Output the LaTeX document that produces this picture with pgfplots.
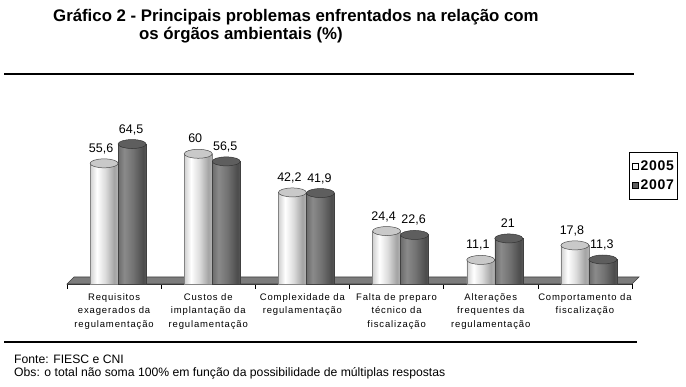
\documentclass[border=0pt]{standalone}
\usepackage{fontspec}
\setmainfont{Liberation Sans}
\newfontfamily\tickfont[LetterSpace=9]{Liberation Sans}
\newfontfamily\legfont[LetterSpace=5]{Liberation Sans Bold}
\usepackage{pgfplots}
\usepackage{pgfplotstable}
\pgfplotsset{compat=1.18}
\pgfplotsset{/pgf/number format/use comma, /pgf/number format/assume math mode=true}
\definecolor{cA0}{HTML}{D0D0D0}
\definecolor{cA2}{HTML}{DCDCDC}
\definecolor{cA3}{HTML}{A4A4A4}
\definecolor{cA4}{HTML}{B4B4B4}
\definecolor{cB0}{HTML}{6C6C6C}
\definecolor{cB1}{HTML}{8A8A8A}
\definecolor{cB2}{HTML}{727272}
\definecolor{cB3}{HTML}{4C4C4C}
\definecolor{cB4}{HTML}{585858}
\definecolor{topA}{HTML}{C9C9C9}
\definecolor{topB}{HTML}{5E5E5E}
\definecolor{floorgray}{HTML}{7C7C7C}
\pgfdeclarehorizontalshading{cylA}{100bp}{color(0bp)=(cA0); color(25bp)=(cA0); color(37bp)=(white); color(52bp)=(cA2); color(68bp)=(cA3); color(75bp)=(cA4); color(100bp)=(cA4)}
\pgfdeclarehorizontalshading{cylB}{100bp}{color(0bp)=(cB0); color(25bp)=(cB0); color(36bp)=(cB1); color(52bp)=(cB2); color(70bp)=(cB3); color(75bp)=(cB4); color(100bp)=(cB4)}
\pgfplotstableread{
x a b
0 55.6 64.5
1 60 56.5
2 42.2 41.9
3 24.4 22.6
4 11.1 21
5 17.8 11.3
}\data
\begin{document}
\begin{tikzpicture}[x=1pt,y=1pt]
\path[use as bounding box] (0,0) rectangle (686,386);
\node[anchor=base west, inner sep=0pt, font=\fontsize{16.8}{19}\selectfont\bfseries] at (53,364.5) {Gráfico 2 - Principais problemas enfrentados na relação com};
\node[anchor=base west, inner sep=0pt, font=\fontsize{16.8}{19}\selectfont\bfseries] at (139,346.5) {os órgãos ambientais (\%)};
\draw[line width=1.1pt] (4,312) -- (634,312);
\draw[line width=1.1pt] (4,44) -- (637,44);
\node[anchor=base west, inner sep=0pt, font=\fontsize{12.2}{14}\selectfont] at (14,22.7) {Fonte: FIESC e CNI};
\node[anchor=base west, inner sep=0pt, font=\fontsize{12.2}{14}\selectfont] at (14,9.3) {Obs: o total não soma 100\% em função da possibilidade de múltiplas respostas};
\begin{axis}[
  width=565pt, height=217pt, scale only axis,
  at={(67pt,102pt)}, anchor=south west,
  xmin=-0.5, xmax=5.5, ymin=0, ymax=100,
  clip=false,
  axis x line*=bottom, axis y line=none,
  x axis line style={line width=0.8pt, black!80},
  xtick={0,...,5},
  xticklabels={{Requisitos\\exagerados da\\regulamentação},{Custos de\\implantação da\\regulamentação},{Complexidade da\\regulamentação},{Falta de preparo\\técnico da\\fiscalização},{Alterações\\frequentes da\\regulamentação},{Comportamento da\\fiscalização}},
  major tick length=0pt,
  minor xtick={-0.5,0.5,...,5.5},
  minor tick length=4.5pt,
  tick align=outside,
  minor tick style={black, line width=0.6pt},
  xticklabel style={font=\tickfont\fontsize{9.5}{13.5}\selectfont, align=center, inner sep=0pt, anchor=north, yshift=-9pt},
  legend style={at={(0.9947,0.608)}, anchor=north west, draw=black, line width=1pt, font=\legfont\fontsize{14}{17}\selectfont, inner xsep=2pt, inner ysep=6pt, row sep=4pt},
  legend cell align=left,
]
\fill[fill=floorgray, draw=black!75, line width=0.6pt] (axis cs:-0.5,0) -- (axis cs:5.5,0) -- ([shift={(7pt,7pt)}]axis cs:5.5,0) -- ([shift={(7pt,7pt)}]axis cs:-0.5,0) -- cycle;
\addlegendimage{legend image code/.code={\draw[black,fill=white,line width=0.6pt] (0pt,-3.3pt) rectangle (6.6pt,3.3pt);}}
\addlegendentry{2005}
\addlegendimage{legend image code/.code={\draw[black,fill=topB,line width=0.6pt] (0pt,-3.3pt) rectangle (6.6pt,3.3pt);}}
\addlegendentry{2007}
\pgfplotsinvokeforeach{0,...,5}{
\addplot[forget plot, ybar, bar width=28pt, bar shift=-10pt, draw=cA3!80!black, line width=0.4pt, shade, shading=cylA, restrict x to domain=#1:#1] table[x=x,y=a]{\data};
}
\addplot[forget plot, only marks, mark=*, mark size=14pt, mark options={xshift=-10pt, yscale=0.32, fill=topA, draw=gray!60!black, line width=0.5pt},
  nodes near coords, every node near coord/.append style={font=\fontsize{12.5}{14}\selectfont, anchor=base, xshift=-3pt, yshift=11pt, inner sep=0pt, text=black}] table[x=x,y=a]{\data};
\pgfplotsinvokeforeach{0,...,5}{
\addplot[forget plot, ybar, bar width=28pt, bar shift=18pt, draw=black!75, line width=0.4pt, shade, shading=cylB, restrict x to domain=#1:#1] table[x=x,y=b]{\data};
}
\addplot[forget plot, only marks, mark=*, mark size=14pt, mark options={xshift=18pt, yscale=0.32, fill=topB, draw=black!80, line width=0.5pt},
  nodes near coords, every node near coord/.append style={font=\fontsize{12.5}{14}\selectfont, anchor=base, xshift=-1pt, yshift=11pt, inner sep=0pt, text=black}] table[x=x,y=b]{\data};
\end{axis}
\end{tikzpicture}
\end{document}
